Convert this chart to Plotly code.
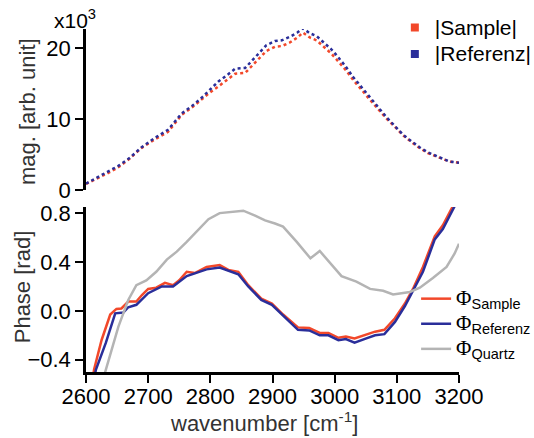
import plotly.graph_objects as go

# ---------------- data ----------------
wn_mag = [2600, 2620, 2640, 2652, 2670, 2689, 2710, 2732, 2754, 2770, 2786, 2800, 2813, 2827,
          2840, 2856, 2866, 2877, 2890, 2904, 2915, 2928, 2940, 2949, 2960, 2971, 2982, 2995,
          3003, 3017, 3030, 3043, 3057, 3070, 3083, 3097, 3110, 3123, 3137, 3150, 3164, 3175,
          3185, 3200]
mag_sample = [0.85, 1.7, 2.6, 3.2, 4.4, 5.9, 7.1, 8.2, 10.6, 11.6, 12.8, 13.8, 14.6, 15.5,
              16.4, 16.5, 17.4, 18.5, 19.6, 20.2, 20.3, 20.8, 21.5, 22.2, 21.5, 21.1, 20.2, 19.2,
              18.4, 17.0, 15.5, 14.1, 12.7, 11.4, 10.1, 8.9, 7.7, 6.8, 5.9, 5.2, 4.7, 4.3,
              4.0, 3.85]
mag_ref = [0.9, 1.9, 2.8, 3.4, 4.5, 6.0, 7.3, 8.5, 10.8, 11.8, 13.0, 14.2, 15.3, 16.2,
           17.1, 17.2, 18.1, 19.2, 20.4, 21.0, 21.1, 21.6, 22.2, 22.8, 22.1, 21.7, 20.8, 19.8,
           19.0, 17.5, 15.9, 14.5, 13.0, 11.7, 10.3, 9.0, 7.8, 6.9, 6.0, 5.3, 4.75, 4.3,
           4.0, 3.85]

wn_ph_sample = [2605, 2613, 2625, 2639, 2649, 2657, 2668, 2681, 2690, 2700, 2713, 2727, 2740,
                2750, 2762, 2775, 2794, 2815, 2829, 2845, 2861, 2882, 2899, 2917, 2941, 2959,
                2976, 2990, 3006, 3018, 3032, 3051, 3065, 3080, 3097, 3113, 3126, 3142, 3161,
                3174, 3190, 3200, 3210]
ph_sample = [-0.75, -0.48, -0.24, -0.03, 0.016, 0.02, 0.076, 0.076, 0.13, 0.18, 0.19, 0.23, 0.21,
             0.25, 0.32, 0.31, 0.36, 0.375, 0.335, 0.32, 0.21, 0.10, 0.06, -0.03, -0.135, -0.14,
             -0.18, -0.18, -0.22, -0.21, -0.225, -0.195, -0.17, -0.155, -0.06, 0.06, 0.18, 0.36, 0.61,
             0.70, 0.857, 0.95, 1.05]

wn_ph_ref = [2605, 2616, 2632, 2647, 2660, 2668, 2681, 2700, 2722, 2740, 2762, 2794, 2815, 2845,
             2861, 2882, 2899, 2917, 2941, 2959, 2976, 2990, 3006, 3018, 3032, 3051, 3065, 3080,
             3097, 3113, 3126, 3142, 3161, 3174, 3193, 3210]
ph_ref = [-0.75, -0.48, -0.26, -0.02, -0.014, 0.03, 0.05, 0.145, 0.2, 0.2, 0.285, 0.34, 0.355, 0.30,
          0.2, 0.09, 0.05, -0.04, -0.155, -0.16, -0.2, -0.2, -0.24, -0.23, -0.26, -0.225, -0.2, -0.19,
          -0.09, 0.04, 0.16, 0.32, 0.585, 0.67, 0.857, 1.0]

wn_ph_quartz = [2620, 2632, 2652, 2668, 2681, 2697, 2713, 2730, 2746, 2762, 2780, 2797, 2815,
                2834, 2853, 2872, 2888, 2904, 2917, 2939, 2961, 2976, 2992, 3011, 3035, 3057,
                3078, 3094, 3121, 3137, 3158, 3180, 3193, 3200]
ph_quartz = [-0.69, -0.48, -0.13, 0.09, 0.21, 0.25, 0.32, 0.42, 0.485, 0.565, 0.66, 0.75, 0.80,
             0.81, 0.82, 0.78, 0.74, 0.715, 0.69, 0.565, 0.43, 0.49, 0.40, 0.285, 0.24, 0.18,
             0.165, 0.135, 0.155, 0.19, 0.27, 0.36, 0.47, 0.55]

x_ticks = [2600, 2700, 2800, 2900, 3000, 3100, 3200]
mag_ticks = [0, 10, 20]
ph_ticks = [-0.4, 0.0, 0.4, 0.8]

RED = "#f2482a"
BLUE = "#2a2e9a"
GRAY = "#b4b4b4"
TITLE_GRAY = "#333333"
FONT = "Arial, Liberation Sans, sans-serif"


def phi(sub):
    return ("<span style=\"font-family:'Liberation Serif', serif; font-size:21px\">Φ</span>"
            "<sub><span style=\"font-size:14.5px\">" + sub + "</span></sub>")


def big(txt):
    return "<span style=\"font-size:21px\">" + txt + "</span>"


fig = go.Figure()

# top panel: magnitudes (dotted)
fig.add_trace(go.Scatter(x=wn_mag, y=mag_sample, mode="lines", line=dict(color=RED, width=2.5, dash="dot"),
                         xaxis="x2", yaxis="y", showlegend=False))
fig.add_trace(go.Scatter(x=wn_mag, y=mag_ref, mode="lines", line=dict(color=BLUE, width=2.5, dash="dot"),
                         xaxis="x2", yaxis="y", showlegend=False))
# legend entries for top
fig.add_trace(go.Scatter(x=[None], y=[None], mode="markers", name=big("|Sample|"),
                         marker=dict(color=RED, symbol="square", size=8),
                         xaxis="x2", yaxis="y", legend="legend"))
fig.add_trace(go.Scatter(x=[None], y=[None], mode="markers", name=big("|Referenz|"),
                         marker=dict(color=BLUE, symbol="square", size=8),
                         xaxis="x2", yaxis="y", legend="legend"))

# bottom panel: phases
fig.add_trace(go.Scatter(x=wn_ph_sample, y=ph_sample, mode="lines", name=phi("Sample"),
                         line=dict(color=RED, width=2.5), xaxis="x", yaxis="y2", legend="legend2"))
fig.add_trace(go.Scatter(x=wn_ph_ref, y=ph_ref, mode="lines", name=phi("Referenz"),
                         line=dict(color=BLUE, width=2.5), xaxis="x", yaxis="y2", legend="legend2"))
fig.add_trace(go.Scatter(x=wn_ph_quartz, y=ph_quartz, mode="lines", name=phi("Quartz"),
                         line=dict(color=GRAY, width=2.5), xaxis="x", yaxis="y2", legend="legend2"))

axis_common = dict(showgrid=False, zeroline=False, showline=True, linecolor="black", linewidth=2.5,
                   ticks="outside", ticklen=8, tickwidth=2, tickcolor="black",
                   tickfont=dict(size=22, color="black", family=FONT))

fig.update_layout(
    width=534, height=438,
    margin=dict(l=86, r=75, t=29, b=66, autoexpand=False),
    paper_bgcolor="white", plot_bgcolor="white",
    font=dict(family=FONT, size=21, color="black"),
    xaxis=dict(domain=[0, 1], anchor="y2", range=[2600, 3200], tickvals=x_ticks,
               ticklabelstandoff=-5, **axis_common),
    xaxis2=dict(domain=[0, 1], anchor="y", range=[2600, 3200], matches="x", visible=False),
    yaxis=dict(domain=[0.5306, 1], anchor="x2", range=[0, 22.7], tickvals=mag_ticks,
               **axis_common),
    yaxis2=dict(domain=[0, 0.481], anchor="x", range=[-0.5, 0.85], tickvals=ph_ticks, tickformat=".1f",
                **axis_common),
    legend=dict(x=0.828, y=1.0575, xanchor="left", yanchor="top", bgcolor="rgba(0,0,0,0)",
                font=dict(size=18, color="black"), tracegroupgap=0),
    legend2=dict(x=0.885, y=0.265, xanchor="left", yanchor="top", bgcolor="rgba(0,0,0,0)",
                 font=dict(size=17, color="black"), tracegroupgap=0),
    annotations=[
        dict(text="x10<sup>3</sup>", xref="paper", yref="paper", x=-0.09, y=0.985,
             xanchor="left", yanchor="bottom", showarrow=False, font=dict(size=21, color="black")),
        dict(text="mag. [arb. unit]", xref="paper", yref="paper", x=-0.158, y=0.758,
             xanchor="center", yanchor="middle", textangle=-90, showarrow=False,
             font=dict(size=22, color=TITLE_GRAY)),
        dict(text="Phase [rad]", xref="paper", yref="paper", x=-0.168, y=0.248,
             xanchor="center", yanchor="middle", textangle=-90, showarrow=False,
             font=dict(size=22, color=TITLE_GRAY)),
        dict(text="wavenumber [cm<sup>-1</sup>]", xref="paper", yref="paper", x=0.477, y=-0.145,
             xanchor="center", yanchor="middle", showarrow=False,
             font=dict(size=22, color=TITLE_GRAY)),
    ],
)

fig.write_html("out.html")
